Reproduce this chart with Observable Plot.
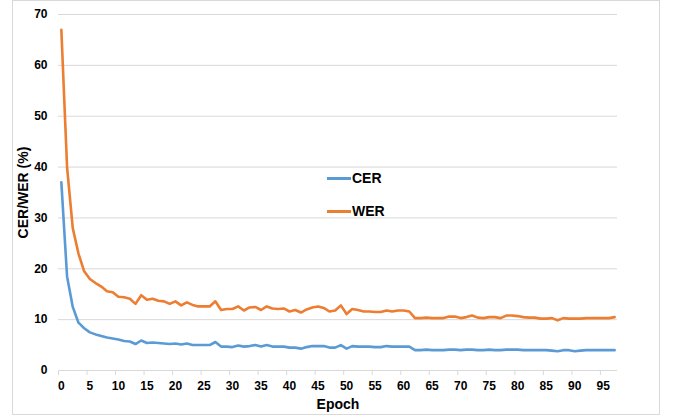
<!DOCTYPE html>
<html>
<head>
<meta charset="utf-8">
<script src="https://cdn.jsdelivr.net/npm/d3@7"></script>
<script src="https://cdn.jsdelivr.net/npm/@observablehq/plot@0.6"></script>
<style>
  body { margin: 0; background: #fff; }
  #wrap { position: relative; width: 675px; height: 419px; font-family: "Liberation Sans", Arial, sans-serif; }
  #border { position: absolute; left: 12px; top: 0px; width: 648px; height: 415px; border: 1px solid #d9d9d9; box-sizing: border-box; pointer-events: none; }
  #legend { position: absolute; left: 327px; top: 168px; font-weight: bold; font-size: 14px; color: #000; }
  .item { display: flex; align-items: center; height: 20px; margin-bottom: 13px; }
  .sw { width: 24px; height: 3px; margin-right: 1px; }
</style>
</head>
<body>
<div id="wrap">
  <div id="chart"></div>
  <div id="border"></div>
  <div id="legend"></div>
</div>
<script>
const epochs = d3.range(0, 98);
const cer = [37, 18.5, 12.5, 9.4, 8.3, 7.5, 7.1, 6.8, 6.5, 6.3,
  6.1, 5.8, 5.7, 5.2, 5.9, 5.4, 5.5, 5.4, 5.3, 5.2,
  5.3, 5.1, 5.3, 5.0, 5.0, 5.0, 5.0, 5.6, 4.7, 4.7,
  4.6, 4.9, 4.7, 4.8, 5.0, 4.7, 5.0, 4.7, 4.7, 4.7,
  4.5, 4.5, 4.3, 4.6, 4.8, 4.8, 4.8, 4.5, 4.5, 5.0,
  4.3, 4.8, 4.7, 4.7, 4.7, 4.6, 4.6, 4.8, 4.7, 4.7,
  4.7, 4.7, 4.0, 4.0, 4.1, 4.0, 4.0, 4.0, 4.1, 4.1,
  4.0, 4.1, 4.1, 4.0, 4.0, 4.1, 4.0, 4.0, 4.1, 4.1,
  4.1, 4.0, 4.0, 4.0, 4.0, 4.0, 3.9, 3.8, 4.0, 4.0,
  3.8, 3.9, 4.0, 4.0, 4.0, 4.0, 4.0, 4.0];
const wer = [67, 40, 28, 23, 19.5, 18, 17.2, 16.5, 15.6, 15.4,
  14.5, 14.4, 14.1, 13.1, 14.8, 13.9, 14.1, 13.7, 13.6, 13.1,
  13.6, 12.8, 13.4, 12.9, 12.6, 12.6, 12.6, 13.6, 11.9, 12.1,
  12.1, 12.6, 11.8, 12.4, 12.5, 11.9, 12.6, 12.2, 12.1, 12.2,
  11.6, 11.9, 11.4, 12.0, 12.4, 12.6, 12.3, 11.6, 11.8, 12.8,
  11.1, 12.1, 11.9, 11.6, 11.6, 11.5, 11.5, 11.8, 11.6, 11.8,
  11.8, 11.6, 10.3, 10.3, 10.4, 10.3, 10.3, 10.3, 10.6, 10.6,
  10.3, 10.5, 10.8, 10.4, 10.3, 10.5, 10.5, 10.3, 10.8, 10.8,
  10.7, 10.5, 10.4, 10.4, 10.2, 10.2, 10.3, 9.9, 10.3, 10.2,
  10.2, 10.2, 10.3, 10.3, 10.3, 10.3, 10.3, 10.5];
const xTickLabels = [0, 5, 10, 15, 20, 25, 30, 35, 40, 45, 50, 55, 60, 65, 70, 75, 80, 85, 90, 95];
const yTicks = [0, 10, 20, 30, 40, 50, 60, 70];
const seriesNames = ["CER", "WER"];
const colors = ["#5B9BD5", "#ED7D31"];

const rows = [];
epochs.forEach((e, i) => {
  rows.push({epoch: e, value: cer[i], series: "CER"});
  rows.push({epoch: e, value: wer[i], series: "WER"});
});
const tickMarks = xTickLabels.map(t => t - 0.5);

const chart = Plot.plot({
  width: 675,
  height: 419,
  marginLeft: 58,
  marginRight: 58,
  marginTop: 14,
  marginBottom: 49,
  style: {fontFamily: "'Liberation Sans', Arial, sans-serif", background: "transparent"},
  x: {domain: [-0.5, 97.5]},
  y: {domain: [0, 70]},
  color: {domain: seriesNames, range: colors},
  marks: [
    Plot.gridY(yTicks.filter(d => d > 0), {stroke: "#d9d9d9", strokeOpacity: 1, strokeWidth: 1}),
    Plot.ruleY([0], {stroke: "#d9d9d9", strokeWidth: 1}),
    Plot.axisX({ticks: tickMarks, tickSize: 5, tickFormat: () => "", stroke: "#d9d9d9", label: null}),
    Plot.axisX({ticks: xTickLabels, tickSize: 0, tickPadding: 11, fontSize: 12, fontWeight: "bold", fill: "#000",
      label: "Epoch", labelAnchor: "center", labelArrow: "none", labelOffset: 38}),
    Plot.axisY({ticks: yTicks, tickSize: 0, tickPadding: 11, fontSize: 12, fontWeight: "bold", fill: "#000",
      label: "CER/WER (%)", labelAnchor: "center", labelArrow: "none", labelOffset: 40}),
    Plot.lineY(rows, {x: "epoch", y: "value", stroke: "series", strokeWidth: 2.6, curve: "linear"})
  ]
});
d3.select(chart).selectAll("[aria-label='x-axis label'] text, [aria-label='y-axis label'] text")
  .style("font-size", "14px").style("font-weight", "bold").style("fill", "#000");
document.getElementById("chart").appendChild(chart);

const legend = document.getElementById("legend");
seriesNames.forEach((s, i) => {
  const it = document.createElement("div");
  it.className = "item";
  it.innerHTML = `<div class="sw" style="background:${colors[i]}"></div><span>${s}</span>`;
  legend.appendChild(it);
});
</script>
</body>
</html>
